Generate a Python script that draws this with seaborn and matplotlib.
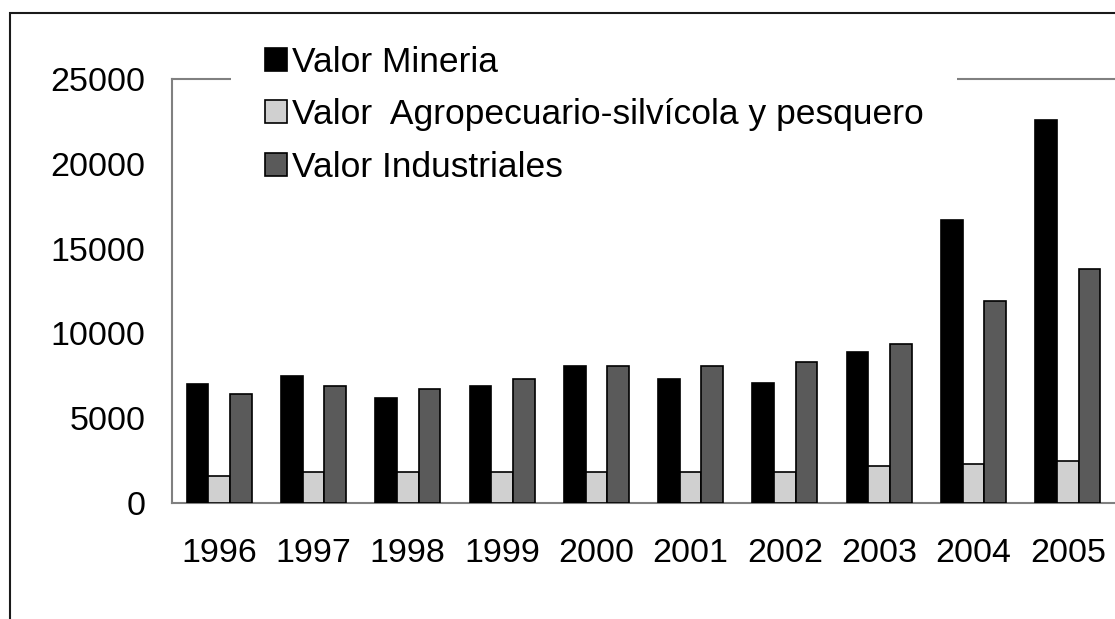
import pandas as pd
import seaborn as sns
import matplotlib.pyplot as plt
from matplotlib.patches import Rectangle

# valores (millones US$)
years = ["1996", "1997", "1998", "1999", "2000", "2001", "2002", "2003", "2004", "2005"]
mineria = [7000, 7500, 6200, 6900, 8100, 7300, 7100, 8900, 16700, 22600]
agro = [1600, 1800, 1800, 1800, 1800, 1800, 1800, 2200, 2300, 2500]
industriales = [6400, 6900, 6700, 7300, 8100, 8100, 8300, 9400, 11900, 13800]

series = ["Valor Mineria", "Valor  Agropecuario-silvícola y pesquero", "Valor Industriales"]
colors = ["#000000", "#d0d0d0", "#5a5a5a"]

df = pd.DataFrame({"year": years, series[0]: mineria, series[1]: agro, series[2]: industriales})
df = df.melt(id_vars="year", var_name="serie", value_name="valor")

sns.set_theme(style="white")
plt.rcParams["font.family"] = ["Liberation Sans", "DejaVu Sans"]
plt.rcParams["text.color"] = "black"

fig = plt.figure(figsize=(11.15, 6.19), dpi=100)
ax = fig.add_axes([172 / 1115, 1 - 503 / 619, 1 - 172 / 1115, (503 - 79) / 619])

sns.barplot(
    data=df, x="year", y="valor", hue="serie", palette=colors,
    width=0.69, edgecolor="black", linewidth=1.2, ax=ax,
)

ax.set_ylim(0, 25000)
ax.set_xlim(-0.5, 9.5)
ax.set_yticks([0, 5000, 10000, 15000, 20000, 25000])
ax.set(xlabel=None, ylabel=None)
ax.tick_params(axis="both", length=0, labelsize=24.5, colors="black")
ax.tick_params(axis="y", pad=19)
ax.tick_params(axis="x", pad=25)

for side in ["left", "top", "bottom"]:
    ax.spines[side].set_color("#808080")
    ax.spines[side].set_linewidth(1.5)
    ax.spines[side].set_zorder(0.5)
ax.spines["right"].set_visible(False)

leg = ax.legend(
    loc="upper left", bbox_to_anchor=(231 / 1115, 1 - 12 / 619),
    bbox_transform=fig.transFigure, fontsize=25.5, frameon=True, framealpha=1,
    handlelength=0.62, handleheight=0.62, handletextpad=0.15,
    labelspacing=0.55, borderpad=0.95, borderaxespad=0,
)
leg.get_frame().set_facecolor("white")
leg.get_frame().set_edgecolor("white")
leg.get_frame().set_linewidth(0)
leg.set_zorder(0.9)
for t in leg.get_texts():
    t.set_color("black")

# marco exterior del grafico
fig.patches.append(Rectangle((10 / 1115, -0.1), 1.2, 1.1 - 13 / 619,
                             transform=fig.transFigure, fill=False,
                             edgecolor="#1a1a1a", linewidth=1.5, zorder=10))

plt.savefig("out.png", dpi=100)
